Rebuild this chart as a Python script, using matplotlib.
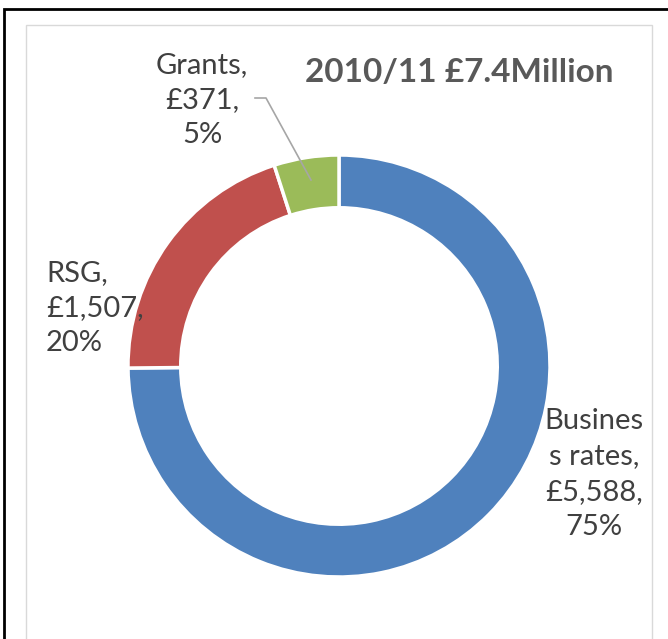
import matplotlib.pyplot as plt
from matplotlib.patches import Rectangle
from matplotlib.lines import Line2D

plt.rcParams['font.family'] = ['Lato', 'DejaVu Sans']

# income sources, £ thousands
names = ['Business rates', 'RSG', 'Grants']
values = [5588, 1507, 371]
label_names = ['Busines\ns rates', 'RSG', 'Grants']
colors = ['#4F81BD', '#C0504D', '#9BBB59']
title = '2010/11 £7.4Million'

W, H = 668, 639
fig = plt.figure(figsize=(W / 100, H / 100), dpi=100)


def fx(px):
    return px / W


def fy(py):
    return 1 - py / H


# outer frame and chart area border
fig.patches.append(Rectangle((fx(4), fy(700)), 2, fy(9) - fy(700), transform=fig.transFigure,
                             fill=False, edgecolor='black', linewidth=2))
fig.patches.append(Rectangle((fx(26), fy(700)), fx(652) - fx(26), fy(25) - fy(700),
                             transform=fig.transFigure, fill=False,
                             edgecolor='#D9D9D9', linewidth=1))

# donut
cx, cy, r = 339, 366, 211
ax = fig.add_axes([fx(cx - r), fy(cy + r), 2 * r / W, 2 * r / H])
ax.pie(values, colors=colors, startangle=90, counterclock=False,
       wedgeprops=dict(width=0.25, edgecolor='white', linewidth=2.5))
ax.set_xlim(-1, 1)
ax.set_ylim(-1, 1)
ax.set_aspect('equal')

total = sum(values)
labels = [f"{n},\n£{v:,},\n{round(v / total * 100)}%" for n, v in zip(label_names, values)]

text_kw = dict(fontsize=21, color='#404040', linespacing=1.45)
fig.text(fx(594), fy(474), labels[0], ha='center', va='center', **text_kw)
fig.text(fx(46), fy(308), labels[1], ha='left', va='center', **text_kw)
fig.text(fx(202), fy(100), labels[2], ha='center', va='center', **text_kw)

# leader line for the small slice
fig.add_artist(Line2D([fx(255), fx(266), fx(311)], [fy(98), fy(98), fy(180)],
                      transform=fig.transFigure, color='#A6A6A6', linewidth=1.2))

fig.text(fx(459), fy(73), title, ha='center', va='center', fontsize=24,
         fontweight='bold', color='#595959')

fig.savefig('out.png', dpi=100)
